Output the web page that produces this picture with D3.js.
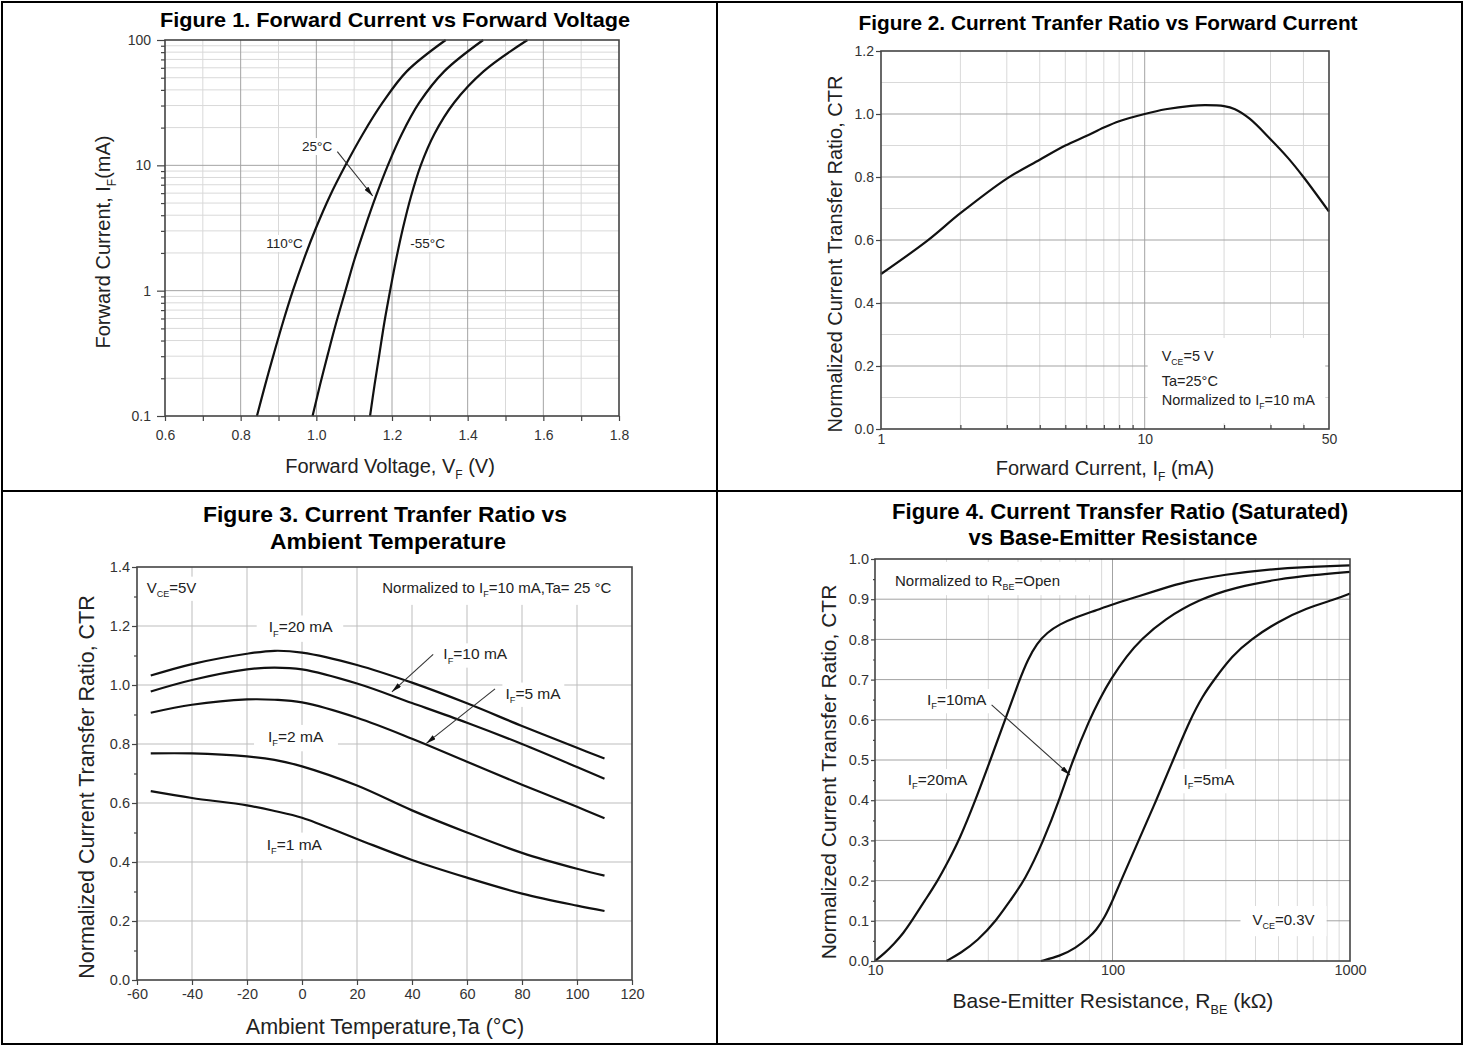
<!DOCTYPE html>
<html>
<head>
<meta charset="utf-8">
<script src="https://cdn.jsdelivr.net/npm/d3@7/dist/d3.min.js"></script>
<style>
  body { margin: 0; background: #fff; }
  svg { display: block; }
</style>
</head>
<body>
<svg id="chart" width="1465" height="1047"></svg>
<script>
// ---------------- Data ----------------
// Figure 1: forward current (mA) read off at fixed steps, forward voltage (V) per temperature
const f1Amp       = [0.1, 0.178, 0.316, 0.562, 1, 1.78, 3.16, 5.62, 10, 17.8, 31.6, 56.2, 100]
const f1Volt110   = [0.843, 0.865, 0.888, 0.912, 0.938, 0.967, 0.999, 1.035, 1.077, 1.123, 1.175, 1.239, 1.342]
const f1Volt25    = [0.99, 1.01, 1.031, 1.053, 1.077, 1.101, 1.128, 1.157, 1.189, 1.226, 1.272, 1.338, 1.441]
const f1VoltM55   = [1.142, 1.154, 1.167, 1.18, 1.195, 1.211, 1.229, 1.25, 1.276, 1.312, 1.364, 1.442, 1.558]
const f1VoltTicks = [0.6, 0.8, 1.0, 1.2, 1.4, 1.6, 1.8]
const f1AmpTicks  = [0.1, 1, 10, 100]

// Figure 2: CTR vs forward current
const f2Current = [1, 1.5, 2, 3, 4, 5, 6, 7, 8, 10, 12, 15, 17, 20, 22, 25, 30, 35, 40, 50]
const f2Ctr     = [0.492, 0.598, 0.685, 0.795, 0.855, 0.9, 0.93, 0.957, 0.977, 1.0, 1.015, 1.026, 1.028, 1.025, 1.015, 0.985, 0.92, 0.86, 0.8, 0.69]
const f2CurrentTicks = [1, 10, 50]
const f2CtrTicks = [0, 0.2, 0.4, 0.6, 0.8, 1.0, 1.2]

// Figure 3: CTR vs ambient temperature, per forward current
const f3Temp   = [-55, -40, -20, -10, 0, 20, 40, 60, 80, 100, 110]
const f3Ctr20  = [1.032, 1.071, 1.106, 1.116, 1.11, 1.068, 1.008, 0.938, 0.861, 0.787, 0.751]
const f3Ctr10  = [0.978, 1.017, 1.053, 1.059, 1.053, 1.005, 0.939, 0.872, 0.8, 0.722, 0.682]
const f3Ctr5   = [0.906, 0.933, 0.951, 0.95, 0.941, 0.889, 0.818, 0.74, 0.662, 0.587, 0.548]
const f3Ctr2   = [0.768, 0.768, 0.758, 0.746, 0.724, 0.659, 0.575, 0.5, 0.431, 0.377, 0.354]
const f3Ctr1   = [0.64, 0.617, 0.592, 0.573, 0.55, 0.478, 0.407, 0.347, 0.293, 0.252, 0.234]
const f3TempTicks = [-60, -40, -20, 0, 20, 40, 60, 80, 100, 120]
const f3CtrTicks  = [0, 0.2, 0.4, 0.6, 0.8, 1.0, 1.2, 1.4]

// Figure 4: CTR (saturated) vs base-emitter resistance (kOhm), per forward current
const f4Res20 = [10, 11, 12, 13.2, 14.3, 16.2, 18.4, 20.4, 22.6, 26.5, 30.6, 35.3, 40.6, 44, 48, 53, 60, 70, 85, 100, 130, 160, 200, 300, 450, 650, 1000]
const f4Ctr20 = [0, 0.02, 0.042, 0.07, 0.1, 0.15, 0.2, 0.25, 0.3, 0.4, 0.5, 0.6, 0.7, 0.75, 0.79, 0.817, 0.838, 0.855, 0.872, 0.887, 0.908, 0.925, 0.943, 0.962, 0.974, 0.98, 0.984]
const f4Res10 = [20, 23, 27, 32.4, 37, 42.7, 51.3, 59.7, 68, 80, 88, 98, 115, 132, 165, 232, 330, 500, 700, 1000]
const f4Ctr10 = [0, 0.02, 0.05, 0.1, 0.15, 0.2, 0.3, 0.4, 0.5, 0.6, 0.65, 0.7, 0.76, 0.8, 0.85, 0.9, 0.93, 0.95, 0.96, 0.968]
const f4Res5  = [50, 60, 70, 80, 85, 93, 100, 109.6, 128.8, 153, 180, 212, 240, 268, 320, 382, 500, 650, 870, 1000]
const f4Ctr5  = [0, 0.012, 0.032, 0.06, 0.075, 0.11, 0.15, 0.205, 0.3, 0.4, 0.5, 0.6, 0.66, 0.7, 0.76, 0.8, 0.845, 0.877, 0.9, 0.914]
const f4ResTicks = [10, 100, 1000]
const f4CtrTicks = [0, 0.1, 0.2, 0.3, 0.4, 0.5, 0.6, 0.7, 0.8, 0.9, 1.0]

// ---------------- Styles ----------------
const FONT = '"Liberation Sans", Arial, Helvetica, sans-serif'
const INK = "#111", FRAME = "#444", TICK_TEXT = "#333"
const GRID_DARK = "#a3a3a3", GRID_MID = "#bdbdbd", GRID_LIGHT = "#d9d9d9"

const svg = d3.select("#chart")

svg.append("defs").append("marker")
  .attr("id", "arrow").attr("viewBox", "0 0 10 5")
  .attr("refX", 10).attr("refY", 2.5)
  .attr("markerWidth", 10).attr("markerHeight", 5)
  .attr("markerUnits", "userSpaceOnUse").attr("orient", "auto")
  .append("path").attr("d", "M0,0 L10,2.5 L0,5 Z").attr("fill", INK)

// page frame: 2 x 2 cells
svg.append("rect").attr("x", 2).attr("y", 2).attr("width", 1460).attr("height", 1042)
  .attr("fill", "none").attr("stroke", "#000").attr("stroke-width", 2)
svg.append("line").attr("x1", 717).attr("x2", 717).attr("y1", 2).attr("y2", 1044)
  .attr("stroke", "#000").attr("stroke-width", 2)
svg.append("line").attr("x1", 2).attr("x2", 1462).attr("y1", 491).attr("y2", 491)
  .attr("stroke", "#000").attr("stroke-width", 2)

// ---------------- Helpers ----------------
// parts: plain strings, or one-element arrays for subscripts
function richText(text, parts, size) {
  let shift = 0
  parts.forEach(p => {
    const isSub = Array.isArray(p)
    const t = text.append("tspan").text(isSub ? p[0] : p)
    if (isSub) {
      t.attr("font-size", size * 0.6).attr("dy", size * 0.28)
      shift = size * 0.28
    } else if (shift) {
      t.attr("dy", -shift)
      shift = 0
    }
  })
  return text
}

function makePanel(x, y) {
  const g = svg.append("g")
  return { x, y, grid: g.append("g"), bg: g.append("g"), ink: g.append("g"), notes: g.append("g"), axes: g.append("g") }
}

function drawGrid(p, xs, ys, color) {
  const [xa, xb] = p.x.range(), [ya, yb] = p.y.range()
  p.grid.append("g").selectAll("line").data(xs).join("line")
    .attr("x1", d => p.x(d)).attr("x2", d => p.x(d)).attr("y1", ya).attr("y2", yb)
    .attr("stroke", color).attr("stroke-width", 1)
  p.grid.append("g").selectAll("line").data(ys).join("line")
    .attr("x1", xa).attr("x2", xb).attr("y1", d => p.y(d)).attr("y2", d => p.y(d))
    .attr("stroke", color).attr("stroke-width", 1)
}

function styleAxis(sel, size) {
  sel.select(".domain").remove()
  sel.attr("font-family", FONT).attr("font-size", size)
  sel.selectAll(".tick line").attr("stroke", FRAME).attr("stroke-width", 1.2)
  sel.selectAll(".tick text").attr("fill", TICK_TEXT)
}

function drawAxes(p, o) {
  const bottom = p.y.range()[0], left = p.x.range()[0]
  const xg = p.axes.append("g").attr("transform", `translate(0,${bottom})`)
    .call(d3.axisBottom(p.x).tickValues(o.xTicks).tickFormat(o.xFmt)
      .tickSizeInner(o.xTick).tickSizeOuter(0).tickPadding(o.xPad))
  styleAxis(xg, o.size)
  if (o.xMinor) {
    styleAxis(p.axes.append("g").attr("transform", `translate(0,${bottom})`)
      .call(d3.axisBottom(p.x).tickValues(o.xMinor).tickFormat("").tickSizeInner(o.xMinorTick).tickSizeOuter(0)), o.size)
  }
  const yg = p.axes.append("g").attr("transform", `translate(${left},0)`)
    .call(d3.axisLeft(p.y).tickValues(o.yTicks).tickFormat(o.yFmt)
      .tickSizeInner(o.yTick).tickSizeOuter(0).tickPadding(o.yPad))
  styleAxis(yg, o.size)
  if (o.yMinor) {
    styleAxis(p.axes.append("g").attr("transform", `translate(${left},0)`)
      .call(d3.axisLeft(p.y).tickValues(o.yMinor).tickFormat("").tickSizeInner(o.yMinorTick).tickSizeOuter(0)), o.size)
  }
  const [xa, xb] = p.x.range(), [ya, yb] = p.y.range()
  p.axes.append("rect").attr("x", xa).attr("y", yb).attr("width", xb - xa).attr("height", ya - yb)
    .attr("fill", "none").attr("stroke", FRAME).attr("stroke-width", 1.6)
}

function drawCurve(p, xs, ys, curve) {
  p.ink.append("path")
    .datum(d3.zip(xs, ys))
    .attr("fill", "none").attr("stroke", INK).attr("stroke-width", 2.2)
    .attr("stroke-linejoin", "round")
    .attr("d", d3.line().x(d => p.x(d[0])).y(d => p.y(d[1])).curve(curve))
}

function drawArrow(p, from, to) {
  p.notes.append("line")
    .attr("x1", p.x(from[0])).attr("y1", p.y(from[1]))
    .attr("x2", p.x(to[0])).attr("y2", p.y(to[1]))
    .attr("stroke", "#333").attr("stroke-width", 1.1)
    .attr("marker-end", "url(#arrow)")
}

// lines: [xValue, yValue, parts]; pad = [left, top, right, bottom] white box behind
function note(p, lines, o) {
  const g = p.notes.append("g")
    .attr("font-family", FONT).attr("font-size", o.size).attr("fill", "#222")
    .attr("text-anchor", o.anchor || "start")
  lines.forEach(([xv, yv, parts]) => richText(g.append("text").attr("x", p.x(xv)).attr("y", p.y(yv)), parts, o.size))
  if (o.pad) {
    const b = g.node().getBBox(), [l, t, r, bt] = o.pad
    p.bg.append("rect").attr("x", b.x - l).attr("y", b.y - t)
      .attr("width", b.width + l + r).attr("height", b.height + t + bt).attr("fill", "#fff")
  }
}

function title(lines, size) {
  lines.forEach(([txt, cx, base, len]) => {
    svg.append("text").attr("x", cx).attr("y", base)
      .attr("text-anchor", "middle").attr("font-family", FONT)
      .attr("font-weight", "bold").attr("font-size", size).attr("fill", "#000")
      .attr("textLength", len).attr("lengthAdjust", "spacingAndGlyphs")
      .text(txt)
  })
}

function xTitle(parts, cx, base, size) {
  richText(svg.append("text").attr("x", cx).attr("y", base).attr("text-anchor", "middle")
    .attr("font-family", FONT).attr("font-size", size).attr("fill", "#222"), parts, size)
}

function yTitle(parts, cy, base, size) {
  richText(svg.append("text").attr("transform", "rotate(-90)")
    .attr("x", -cy).attr("y", base).attr("text-anchor", "middle")
    .attr("font-family", FONT).attr("font-size", size).attr("fill", "#222"), parts, size)
}

const logMinors = (lo, hi) => {
  const out = []
  for (let dec = lo; dec < hi; dec *= 10) for (let k = 2; k <= 9; k++) out.push(dec * k)
  return out.filter(v => v < hi)
}
const fmt1 = d3.format(".1f")

// ---------------- Figure 1 ----------------
{
  const x = d3.scaleLinear().domain([0.6, 1.8]).range([165, 619])
  const y = d3.scaleLog().domain([0.1, 100]).range([416, 40])
  const p = makePanel(x, y)

  drawGrid(p, [0.7, 0.9, 1.1, 1.3, 1.5, 1.7], logMinors(0.1, 100), GRID_LIGHT)
  drawGrid(p, [0.8, 1.0, 1.2, 1.4, 1.6], [1, 10], GRID_DARK)

  const curve = d3.curveCatmullRom.alpha(0.5)
  drawCurve(p, f1Volt110, f1Amp, curve)
  drawCurve(p, f1Volt25, f1Amp, curve)
  drawCurve(p, f1VoltM55, f1Amp, curve)

  note(p, [[1.002, 13.0, ["25°C"]]], { size: 13.5, anchor: "middle", pad: [2, 1, 2, 1] })
  note(p, [[0.916, 2.19, ["110°C"]]], { size: 13.5, anchor: "middle", pad: [2, 1, 2, 1] })
  note(p, [[1.294, 2.19, ["-55°C"]]], { size: 13.5, anchor: "middle", pad: [2, 1, 2, 1] })
  drawArrow(p, [1.0555, 12.85], [1.149, 5.69])

  drawAxes(p, {
    size: 14,
    xTicks: f1VoltTicks, xFmt: fmt1, xTick: 5, xPad: 9,
    xMinor: [0.7, 0.9, 1.1, 1.3, 1.5, 1.7], xMinorTick: 5,
    yTicks: f1AmpTicks, yFmt: d => String(d), yTick: 8, yPad: 6,
    yMinor: logMinors(0.1, 100), yMinorTick: 4
  })

  title([["Figure 1. Forward Current vs Forward Voltage", 395, 27, 470]], 21)
  xTitle(["Forward Voltage, V", ["F"], " (V)"], 390, 473, 20)
  yTitle(["Forward Current, I", ["F"], "(mA)"], 242, 110, 20)
}

// ---------------- Figure 2 ----------------
{
  const x = d3.scaleLog().domain([1, 50]).range([881, 1329])
  const y = d3.scaleLinear().domain([0, 1.2]).range([429, 51])
  const p = makePanel(x, y)

  drawGrid(p, [2, 3, 4, 5, 6, 7, 8, 9, 20, 30, 40], [0.1, 0.3, 0.5, 0.7, 0.9, 1.1], GRID_LIGHT)
  drawGrid(p, [10], [0.2, 0.4, 0.6, 0.8, 1.0], GRID_DARK)

  drawCurve(p, f2Current, f2Ctr, d3.curveCatmullRom.alpha(0.5))

  note(p, [
    [11.6, 0.216, ["V", ["CE"], "=5 V"]],
    [11.6, 0.135, ["Ta=25°C"]],
    [11.6, 0.076, ["Normalized to I", ["F"], "=10 mA"]]
  ], { size: 14.5, pad: [14, 10, 10, 12] })

  drawAxes(p, {
    size: 14,
    xTicks: f2CurrentTicks, xFmt: d => String(d), xTick: 0, xPad: 5,
    xMinor: [2, 3, 4, 5, 6, 7, 8, 9, 20, 30, 40], xMinorTick: -4,
    yTicks: f2CtrTicks, yFmt: fmt1, yTick: 5, yPad: 2
  })

  title([["Figure 2. Current Tranfer Ratio vs Forward Current", 1108, 30, 499]], 21)
  xTitle(["Forward Current, I", ["F"], " (mA)"], 1105, 475, 20)
  yTitle(["Normalized Current Transfer Ratio, CTR"], 254, 842, 20)
}

// ---------------- Figure 3 ----------------
{
  const x = d3.scaleLinear().domain([-60, 120]).range([137, 632])
  const y = d3.scaleLinear().domain([0, 1.4]).range([980, 567])
  const p = makePanel(x, y)

  drawGrid(p, [-40, -20, 0, 20, 40, 60, 80, 100], [0.2, 0.4, 0.6, 0.8, 1.0, 1.2], GRID_MID)

  const curve = d3.curveCatmullRom.alpha(0.5)
  drawCurve(p, f3Temp, f3Ctr20, curve)
  drawCurve(p, f3Temp, f3Ctr10, curve)
  drawCurve(p, f3Temp, f3Ctr5, curve)
  drawCurve(p, f3Temp, f3Ctr2, curve)
  drawCurve(p, f3Temp, f3Ctr1, curve)

  note(p, [[-56.5, 1.313, ["V", ["CE"], "=5V"]]], { size: 15, pad: [2, 2, 2, 2] })
  note(p, [[112.5, 1.313, ["Normalized to I", ["F"], "=10 mA,Ta= 25 °C"]]], { size: 15, anchor: "end", pad: [8, 12, 6, 6] })
  note(p, [[-0.5, 1.178, ["I", ["F"], "=20 mA"]]], { size: 15.5, anchor: "middle", pad: [12, 3, 10, 3] })
  note(p, [[63, 1.087, ["I", ["F"], "=10 mA"]]], { size: 15.5, anchor: "middle", pad: [3, 2, 3, 2] })
  note(p, [[84, 0.954, ["I", ["F"], "=5 mA"]]], { size: 15.5, anchor: "middle", pad: [3, 2, 3, 2] })
  note(p, [[-2.3, 0.807, ["I", ["F"], "=2 mA"]]], { size: 15.5, anchor: "middle", pad: [14, 3, 14, 3] })
  note(p, [[-2.8, 0.442, ["I", ["F"], "=1 mA"]]], { size: 15.5, anchor: "middle", pad: [14, 3, 9, 3] })
  drawArrow(p, [47.7, 1.104], [32.7, 0.977])
  drawArrow(p, [70.2, 0.987], [45.2, 0.802])

  drawAxes(p, {
    size: 14.5,
    xTicks: f3TempTicks, xFmt: d => String(d), xTick: 5, xPad: 4,
    yTicks: f3CtrTicks, yFmt: fmt1, yTick: 5, yPad: 2,
    yMinor: [0.1, 0.3, 0.5, 0.7, 0.9, 1.1, 1.3], yMinorTick: 3
  })

  title([
    ["Figure 3. Current Tranfer Ratio vs", 385, 522, 364],
    ["Ambient Temperature", 388, 549, 236]
  ], 22)
  xTitle(["Ambient Temperature,Ta (°C)"], 385, 1034, 21.5)
  yTitle(["Normalized Current Transfer Ratio, CTR"], 787, 94, 21.5)
}

// ---------------- Figure 4 ----------------
{
  const x = d3.scaleLog().domain([10, 1000]).range([875, 1350])
  const y = d3.scaleLinear().domain([0, 1]).range([961, 559])
  const p = makePanel(x, y)

  drawGrid(p, logMinors(10, 1000), [], GRID_LIGHT)
  drawGrid(p, [100], [0.1, 0.2, 0.3, 0.4, 0.5, 0.6, 0.7, 0.8, 0.9], GRID_DARK)

  const curve = d3.curveBasis
  drawCurve(p, f4Res20, f4Ctr20, curve)
  drawCurve(p, f4Res10, f4Ctr10, curve)
  drawCurve(p, f4Res5, f4Ctr5, curve)

  note(p, [[12.14, 0.933, ["Normalized to R", ["BE"], "=Open"]]], { size: 15, pad: [15, 10, 40, 3] })
  note(p, [[22.07, 0.637, ["I", ["F"], "=10mA"]]], { size: 15.5, anchor: "middle", pad: [3, 2, 3, 2] })
  note(p, [[18.33, 0.438, ["I", ["F"], "=20mA"]]], { size: 15.5, anchor: "middle", pad: [3, 2, 3, 2] })
  note(p, [[254.9, 0.438, ["I", ["F"], "=5mA"]]], { size: 15.5, anchor: "middle", pad: [3, 2, 3, 2] })
  note(p, [[525, 0.0896, ["V", ["CE"], "=0.3V"]]], { size: 15, anchor: "middle", pad: [12, 5, 12, 5] })
  drawArrow(p, [30.97, 0.637], [66.2, 0.4627])

  drawAxes(p, {
    size: 14.5,
    xTicks: f4ResTicks, xFmt: d => String(d), xTick: 0, xPad: 4,
    yTicks: f4CtrTicks, yFmt: fmt1, yTick: 4, yPad: 2,
    yMinor: d3.range(0.05, 1, 0.1), yMinorTick: 2
  })

  title([
    ["Figure 4. Current Transfer Ratio (Saturated)", 1120, 519, 456],
    ["vs Base-Emitter Resistance", 1113, 545, 289]
  ], 22)
  xTitle(["Base-Emitter Resistance, R", ["BE"], " (kΩ)"], 1113, 1008, 21)
  yTitle(["Normalized Current Transfer Ratio, CTR"], 772, 836, 21)
}
</script>
</body>
</html>
